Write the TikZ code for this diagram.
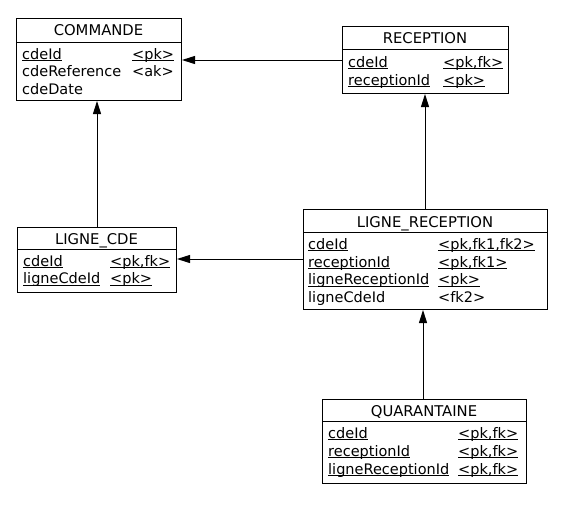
\documentclass[tikz,border=0pt]{standalone}
\usepackage{fontspec}
\setmainfont{DejaVu Sans}
\usetikzlibrary{arrows.meta}
\newcommand{\ulx}[1]{\setbox0\hbox{#1}\rlap{\rule[-2.3pt]{\wd0}{0.9pt}}\box0}
\tikzset{
  tbl/.style={draw=black, line width=1pt, anchor=north west, inner sep=0pt, fill=white},
  hdr/.style={anchor=base, inner sep=0pt, font=\fontsize{14.8}{16}\selectfont},
  fld/.style={anchor=base west, inner sep=0pt, font=\fontsize{14.5}{16}\selectfont},
  sep/.style={line width=1pt},
  ref/.style={line width=1pt, -{Triangle[length=13pt,width=8pt]}}
}
\begin{document}
\begin{tikzpicture}[x=1pt,y=-1pt]
\useasboundingbox (0,0) rectangle (567,504);

% COMMANDE
\node[tbl, minimum width=165pt, minimum height=82pt] (commande) at (16,18) {};
\draw[sep] (commande.west |- 0,42) -- (commande.east |- 0,42);
\node[hdr] (commandeH) at (98.5,35.5) {COMMANDE};
\node[fld] (c1a) at (22,59) {\ulx{cdeId}};
\node[fld] (c1b) at (132,59) {\ulx{<pk>}};
\node[fld] (c2a) at (22,76.5) {cdeReference};
\node[fld] (c2b) at (132,76.5) {<ak>};
\node[fld] (c3a) at (22,94) {cdeDate};

% RECEPTION
\node[tbl, minimum width=166pt, minimum height=67pt] (reception) at (342,26) {};
\draw[sep] (reception.west |- 0,49) -- (reception.east |- 0,49);
\node[hdr] (receptionH) at (425,43.5) {RECEPTION};
\node[fld] (r1a) at (348,67) {\ulx{cdeId}};
\node[fld] (r1b) at (443,67) {\ulx{<pk,fk>}};
\node[fld] (r2a) at (348,85) {\ulx{receptionId}};
\node[fld] (r2b) at (443,85) {\ulx{<pk>}};

% LIGNE_CDE
\node[tbl, minimum width=159pt, minimum height=65pt] (lcde) at (17,227) {};
\draw[sep] (lcde.west |- 0,249) -- (lcde.east |- 0,249);
\node[hdr] (lcdeH) at (96.5,244) {LIGNE\_CDE};
\node[fld] (l1a) at (23,266) {\ulx{cdeId}};
\node[fld] (l1b) at (110,266) {\ulx{<pk,fk>}};
\node[fld] (l2a) at (23,283.5) {\ulx{ligneCdeId}};
\node[fld] (l2b) at (110,283.5) {\ulx{<pk>}};

% LIGNE_RECEPTION
\node[tbl, minimum width=244pt, minimum height=100pt] (lrec) at (303,209) {};
\draw[sep] (lrec.west |- 0,232) -- (lrec.east |- 0,232);
\node[hdr] (lrecH) at (425,227) {LIGNE\_RECEPTION};
\node[fld] (lr1a) at (308,249) {\ulx{cdeId}};
\node[fld] (lr1b) at (438,249) {\ulx{<pk,fk1,fk2>}};
\node[fld] (lr2a) at (308,267) {\ulx{receptionId}};
\node[fld] (lr2b) at (438,267) {\ulx{<pk,fk1>}};
\node[fld] (lr3a) at (308,284.5) {\ulx{ligneReceptionId}};
\node[fld] (lr3b) at (438,284.5) {\ulx{<pk>}};
\node[fld] (lr4a) at (308,302) {ligneCdeId};
\node[fld] (lr4b) at (438,302) {<fk2>};

% QUARANTAINE
\node[tbl, minimum width=204pt, minimum height=84pt] (quar) at (322,399) {};
\draw[sep] (quar.west |- 0,421) -- (quar.east |- 0,421);
\node[hdr] (quarH) at (424,416) {QUARANTAINE};
\node[fld] (q1a) at (328,438) {\ulx{cdeId}};
\node[fld] (q1b) at (458,438) {\ulx{<pk,fk>}};
\node[fld] (q2a) at (328,456) {\ulx{receptionId}};
\node[fld] (q2b) at (458,456) {\ulx{<pk,fk>}};
\node[fld] (q3a) at (328,474) {\ulx{ligneReceptionId}};
\node[fld] (q3b) at (458,474) {\ulx{<pk,fk>}};

% references
\draw[ref] (reception.west |- 0,60) -- (commande.east |- 0,60);
\draw[ref] (lcde.north -| 97,0) -- (commande.south -| 97,0);
\draw[ref] (lrec.west |- 0,259) -- (lcde.east |- 0,259);
\draw[ref] (lrec.north -| 425,0) -- (reception.south -| 425,0);
\draw[ref] (quar.north -| 423,0) -- (lrec.south -| 423,0);
\end{tikzpicture}
\end{document}
